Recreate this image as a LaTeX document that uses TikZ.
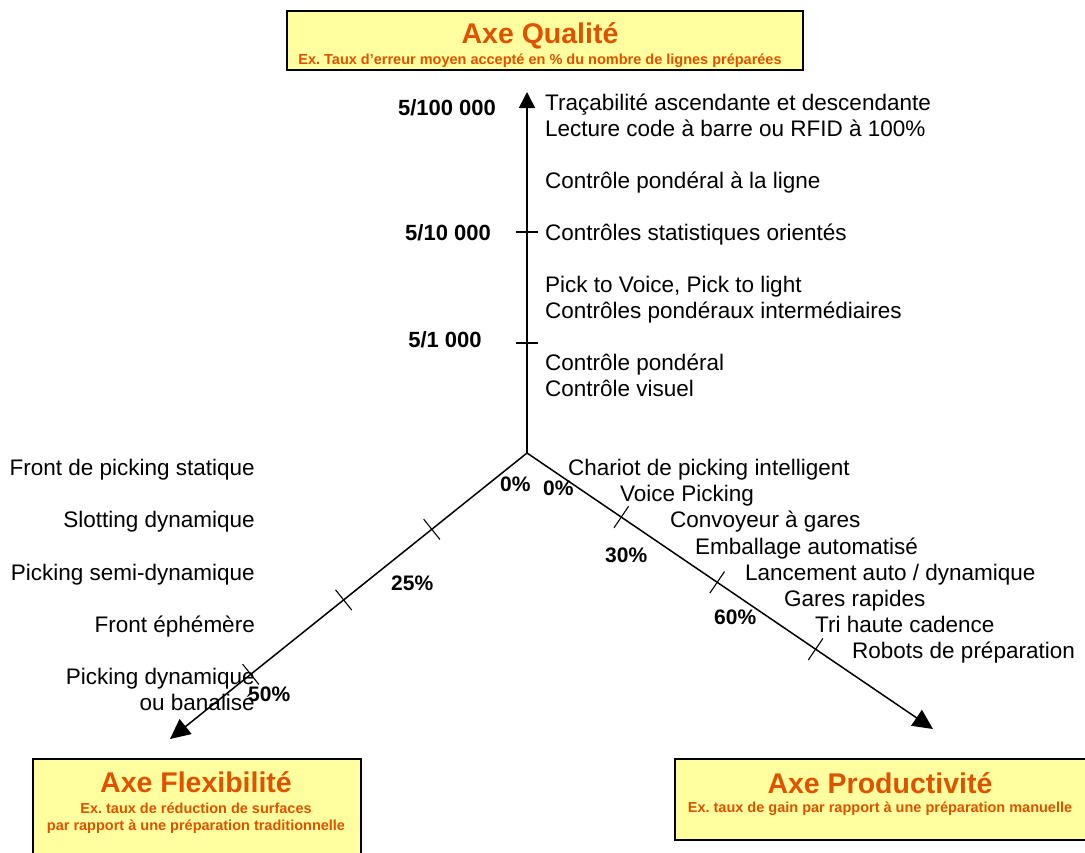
\documentclass[tikz,border=0pt]{standalone}
\usepackage{fontspec}
\setmainfont{Liberation Sans}
\usetikzlibrary{arrows.meta,calc}
\definecolor{boxfill}{RGB}{255,255,160}
\definecolor{titleorange}{RGB}{222,82,0}
\frenchspacing
\begin{document}
\begin{tikzpicture}[x=1pt,y=-1pt,
  item/.style={font=\fontsize{22.5}{26}\selectfont, inner sep=0pt},
  itemw/.style={item, anchor=base west},
  iteme/.style={item, anchor=base east},
  pct/.style={font=\bfseries\fontsize{21}{24}\selectfont, inner sep=0pt, anchor=base west},
  qlab/.style={font=\bfseries\fontsize{22}{25}\selectfont, inner sep=0pt, anchor=base},
  axisbox/.style={draw=black, line width=1.6pt, fill=boxfill, inner sep=0pt, anchor=north west},
  boxtitle/.style={font=\bfseries\fontsize{28.5}{32}\selectfont, text=titleorange, inner sep=0pt, anchor=base},
  boxsub/.style={font=\bfseries\fontsize{14.5}{17}\selectfont, text=titleorange, inner sep=0pt, anchor=base},
  axisline/.style={line width=1.5pt},
  tickline/.style={line width=1.1pt}]
\useasboundingbox (0,0) rectangle (1085,852);

% boxes
\node[axisbox, minimum width=516pt, minimum height=59pt] (qbox) at (286,10) {};
\node[boxtitle] (qtitle) at (540,43) {Axe Qualité};
\node[boxsub] (qsub) at (540,64) {Ex. Taux d’erreur moyen accepté en \% du nombre de lignes préparées};

\node[axisbox, minimum width=328pt, minimum height=110pt] (fbox) at (32,758) {};
\node[boxtitle] (ftitle) at (196,792) {Axe Flexibilité};
\node[boxsub] (fsub1) at (196,813) {Ex. taux de réduction de surfaces};
\node[boxsub] (fsub2) at (196,830) {par rapport à une préparation traditionnelle};

\node[axisbox, minimum width=420pt, minimum height=81pt] (pbox) at (674,758) {};
\node[boxtitle] (ptitle) at (880,793) {Axe Productivité};
\node[boxsub] (psub) at (880,812) {Ex. taux de gain par rapport à une préparation manuelle};

% axes
\coordinate (O) at (527,453);
\coordinate (qtip) at (527,92);
\coordinate (ftip) at (170,739);
\coordinate (ptip) at (933,729);
\draw[axisline, -{Triangle[length=16pt,width=16pt]}] (O) -- (qtip);
\draw[axisline, -{Triangle[length=20pt,width=19pt]}] (O) -- (ftip);
\draw[axisline, -{Triangle[length=20pt,width=19pt]}] (O) -- (ptip);

% ticks
\foreach \d in {110,221}{
  \path ($(O)!\d pt!(qtip)$) coordinate (t);
  \draw[tickline] ($(t)!11pt!90:(qtip)$) -- ($(t)!11pt!-90:(qtip)$);
}
\foreach \d in {122,235,354}{
  \path ($(O)!\d pt!(ftip)$) coordinate (t);
  \draw[tickline] ($(t)!13pt!90:(ftip)$) -- ($(t)!13pt!-90:(ftip)$);
}
\foreach \d in {114,230,349}{
  \path ($(O)!\d pt!(ptip)$) coordinate (t);
  \draw[tickline] ($(t)!13pt!90:(ptip)$) -- ($(t)!13pt!-90:(ptip)$);
}

% quality scale labels
\node[qlab] (q1) at (447,115) {5/100 000};
\node[qlab] (q2) at (448,240) {5/10 000};
\node[qlab] (q3) at (445,347) {5/1 000};

% quality items
\node[itemw] (a1) at (545,110) {Traçabilité ascendante et descendante};
\node[itemw] (a2) at (545,136) {Lecture code à barre ou RFID à 100\%};
\node[itemw] (a3) at (545,188) {Contrôle pondéral à la ligne};
\node[itemw] (a4) at (545,240) {Contrôles statistiques orientés};
\node[itemw] (a5) at (545,292) {Pick to Voice, Pick to light};
\node[itemw] (a6) at (545,318) {Contrôles pondéraux intermédiaires};
\node[itemw] (a7) at (545,370) {Contrôle pondéral};
\node[itemw] (a8) at (545,396) {Contrôle visuel};

% flexibility items
\node[iteme] (b1) at (255,475) {Front de picking statique};
\node[iteme] (b2) at (255,527.5) {Slotting dynamique};
\node[iteme] (b3) at (255,580) {Picking semi-dynamique};
\node[iteme] (b4) at (255,632) {Front éphémère};
\node[iteme] (b5) at (255,684.5) {Picking dynamique};
\node[iteme] (b6) at (255,710.5) {ou banalisé};

% productivity items
\node[itemw] (c1) at (568,475) {Chariot de picking intelligent};
\node[itemw] (c2) at (620,501) {Voice Picking};
\node[itemw] (c3) at (670,527.5) {Convoyeur à gares};
\node[itemw] (c4) at (695,554) {Emballage automatisé};
\node[itemw] (c5) at (745,580) {Lancement auto / dynamique};
\node[itemw] (c6) at (784,606) {Gares rapides};
\node[itemw] (c7) at (815,632.5) {Tri haute cadence};
\node[itemw] (c8) at (852,658.5) {Robots de préparation};

% percent labels
\node[pct] (p1) at (500,491) {0\%};
\node[pct] (p2) at (543,495) {0\%};
\node[pct] (p3) at (391,590) {25\%};
\node[pct] (p4) at (248,701) {50\%};
\node[pct] (p5) at (605,562) {30\%};
\node[pct] (p6) at (714,624) {60\%};
\end{tikzpicture}
\end{document}
